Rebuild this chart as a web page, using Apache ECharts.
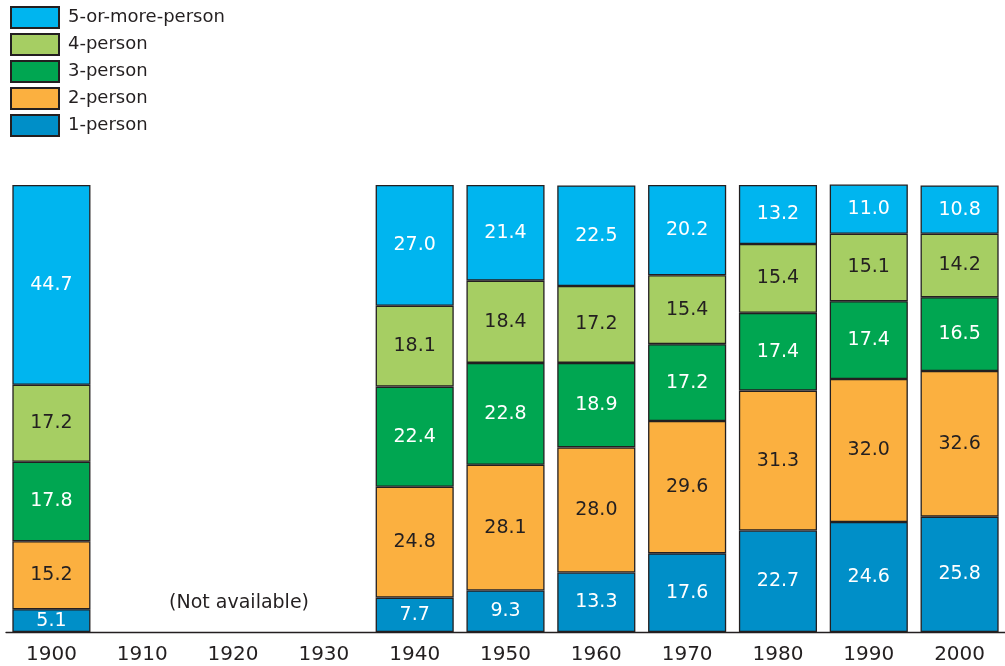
<!DOCTYPE html>
<html>
<head>
<meta charset="utf-8">
<script src="https://cdn.jsdelivr.net/npm/echarts@6/dist/echarts.min.js"></script>
<style>html,body{margin:0;padding:0;background:#fff}#c{width:1005px;height:666px}</style>
</head>
<body>
<div id="c"></div>
<script>
var years = ['1900','1910','1920','1930','1940','1950','1960','1970','1980','1990','2000'];
var onePerson = [5.1, null, null, null, 7.7, 9.3, 13.3, 17.6, 22.7, 24.6, 25.8];
var twoPerson = [15.2, null, null, null, 24.8, 28.1, 28.0, 29.6, 31.3, 32.0, 32.6];
var threePerson = [17.8, null, null, null, 22.4, 22.8, 18.9, 17.2, 17.4, 17.4, 16.5];
var fourPerson = [17.2, null, null, null, 18.1, 18.4, 17.2, 15.4, 15.4, 15.1, 14.2];
var fivePlus = [44.7, null, null, null, 27.0, 21.4, 22.5, 20.2, 13.2, 11.0, 10.8];
var seriesNames = ['1-person','2-person','3-person','4-person','5-or-more-person'];
var seriesData = [onePerson, twoPerson, threePerson, fourPerson, fivePlus];
var colors = ['#008fc8','#fbb040','#00a651','#a6ce63','#00b5ef'];
var labelColors = ['#ffffff','#231f20','#ffffff','#231f20','#ffffff'];
var FONT = 'DejaVu Sans';

var chart = echarts.init(document.getElementById('c'), null, {renderer:'canvas'});
var series = seriesNames.map(function(n, i){
  return {
    name: n, type: 'bar', stack: 'all', data: seriesData[i],
    barCategoryGap: '14%',
    itemStyle: {color: colors[i], borderColor: '#231f20', borderWidth: 1.3},
    label: {show: true, position: 'inside', color: labelColors[i], fontFamily: FONT, fontSize: 19,
      formatter: function(p){ return p.value == null ? '' : p.value.toFixed(1); }},
    emphasis: {disabled: true},
    animation: false
  };
});
chart.setOption({
  animation: false,
  textStyle: {fontFamily: FONT},
  legend: {
    data: seriesNames.slice().reverse().map(function(n){ return {name: n, icon: 'rect'}; }),
    orient: 'vertical', left: 10, top: 6, padding: 0,
    itemWidth: 48, itemHeight: 21, itemGap: 4,
    textStyle: {fontFamily: FONT, fontSize: 18, color: '#231f20', lineHeight: 21, padding: [0, 0, 0, 4]},
    selectedMode: false
  },
  grid: {left: 6, right: 0, top: 185, bottom: 34, containLabel: false},
  xAxis: {
    type: 'category', data: years,
    axisLine: {lineStyle: {color: '#231f20', width: 1.3}},
    axisTick: {show: false},
    axisLabel: {fontFamily: FONT, fontSize: 20, color: '#231f20', margin: 13}
  },
  yAxis: {type: 'value', min: 0, max: 100, show: false, splitLine: {show: false}},
  series: series
});
var pos = chart.convertToPixel({xAxisIndex: 0, yAxisIndex: 0}, ['1920', 6.5]);
chart.setOption({
  graphic: [{type: 'text', x: pos[0] + 6, y: pos[1], style: {text: '(Not available)', fontFamily: FONT, fontSize: 19, fill: '#231f20', textAlign: 'center', textVerticalAlign: 'middle'}}]
});
</script>
</body>
</html>
